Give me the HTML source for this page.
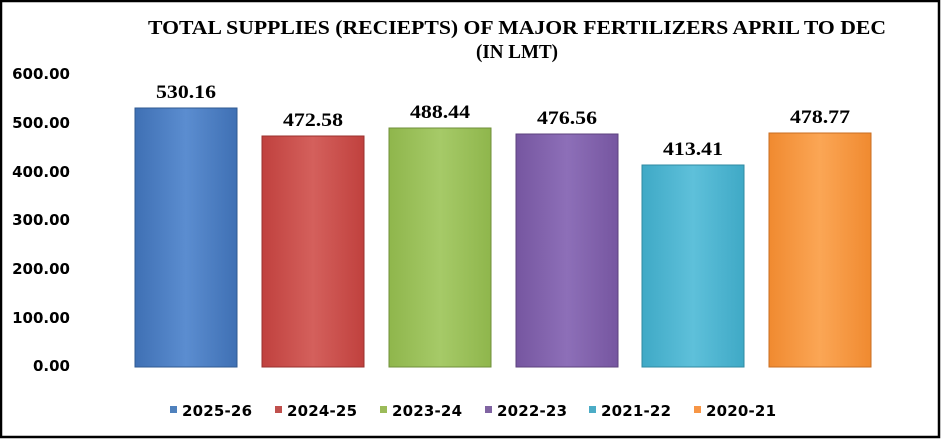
<!DOCTYPE html>
<html><head><meta charset="utf-8"><style>
html,body{margin:0;padding:0;background:#fff;}
svg{display:block;}
.ax{font-family:"DejaVu Sans","Liberation Sans",sans-serif;font-weight:bold;font-size:15px;fill:#000;}
.dl{font-family:"Liberation Serif",serif;font-weight:bold;font-size:19px;fill:#000;}
.tt{font-family:"Liberation Serif",serif;font-weight:bold;font-size:20px;fill:#000;}
.lg{font-family:"DejaVu Sans","Liberation Sans",sans-serif;font-weight:bold;font-size:15px;fill:#000;}
</style></head><body>
<svg width="941" height="439" viewBox="0 0 941 439" xmlns="http://www.w3.org/2000/svg">
<defs>
<linearGradient id="g0" x1="0" x2="1"><stop offset="0" stop-color="#3f70b4"/><stop offset=".5" stop-color="#5b8dd0"/><stop offset="1" stop-color="#3f70b4"/></linearGradient>
<linearGradient id="g1" x1="0" x2="1"><stop offset="0" stop-color="#c0413e"/><stop offset=".5" stop-color="#d4605c"/><stop offset="1" stop-color="#c0413e"/></linearGradient>
<linearGradient id="g2" x1="0" x2="1"><stop offset="0" stop-color="#8fb64c"/><stop offset=".5" stop-color="#a6ca68"/><stop offset="1" stop-color="#8fb64c"/></linearGradient>
<linearGradient id="g3" x1="0" x2="1"><stop offset="0" stop-color="#7656a0"/><stop offset=".5" stop-color="#8d6fb8"/><stop offset="1" stop-color="#7656a0"/></linearGradient>
<linearGradient id="g4" x1="0" x2="1"><stop offset="0" stop-color="#3fa9c6"/><stop offset=".5" stop-color="#5ec0da"/><stop offset="1" stop-color="#3fa9c6"/></linearGradient>
<linearGradient id="g5" x1="0" x2="1"><stop offset="0" stop-color="#f08a30"/><stop offset=".5" stop-color="#fba655"/><stop offset="1" stop-color="#f08a30"/></linearGradient>
</defs>
<rect x="1" y="1" width="938" height="436" fill="#fff" stroke="#000" stroke-width="2.5"/>
<text class="tt" x="148" y="34" textLength="738" lengthAdjust="spacingAndGlyphs">TOTAL SUPPLIES (RECIEPTS) OF MAJOR FERTILIZERS APRIL TO DEC</text>
<text class="tt" x="476" y="58" textLength="82" lengthAdjust="spacingAndGlyphs">(IN LMT)</text>
<g class="ax" text-anchor="end">
<text x="70" y="79">600.00</text>
<text x="70" y="128">500.00</text>
<text x="70" y="177">400.00</text>
<text x="70" y="225">300.00</text>
<text x="70" y="274">200.00</text>
<text x="70" y="323">100.00</text>
<text x="70" y="371">0.00</text>
</g>
<g stroke-width="1">
<rect x="135" y="108" width="102" height="259" fill="url(#g0)" stroke="#2f5a92"/>
<rect x="262" y="136" width="102" height="231" fill="url(#g1)" stroke="#9a302d"/>
<rect x="389" y="128" width="102" height="239" fill="url(#g2)" stroke="#6f8f3a"/>
<rect x="516" y="134" width="102" height="233" fill="url(#g3)" stroke="#5c427e"/>
<rect x="642" y="165" width="102" height="202" fill="url(#g4)" stroke="#2f8aa2"/>
<rect x="769" y="133" width="102" height="234" fill="url(#g5)" stroke="#c86e22"/>
</g>
<g class="dl">
<text x="156" y="98" textLength="60" lengthAdjust="spacingAndGlyphs">530.16</text>
<text x="283" y="126" textLength="60" lengthAdjust="spacingAndGlyphs">472.58</text>
<text x="410" y="118" textLength="60" lengthAdjust="spacingAndGlyphs">488.44</text>
<text x="537" y="124" textLength="60" lengthAdjust="spacingAndGlyphs">476.56</text>
<text x="663" y="155" textLength="60" lengthAdjust="spacingAndGlyphs">413.41</text>
<text x="790" y="123" textLength="60" lengthAdjust="spacingAndGlyphs">478.77</text>
</g>
<g>
<rect x="170" y="406" width="7" height="7" fill="#4f81bd"/>
<rect x="275" y="406" width="7" height="7" fill="#c0504d"/>
<rect x="380" y="406" width="7" height="7" fill="#9bbb59"/>
<rect x="485" y="406" width="7" height="7" fill="#8064a2"/>
<rect x="589" y="406" width="7" height="7" fill="#4bacc6"/>
<rect x="694" y="406" width="7" height="7" fill="#f79646"/>
</g>
<g class="lg">
<text x="182" y="416" textLength="70">2025-26</text>
<text x="287" y="416" textLength="70">2024-25</text>
<text x="392" y="416" textLength="70">2023-24</text>
<text x="497" y="416" textLength="70">2022-23</text>
<text x="601" y="416" textLength="70">2021-22</text>
<text x="706" y="416" textLength="70">2020-21</text>
</g>
</svg>
</body></html>
